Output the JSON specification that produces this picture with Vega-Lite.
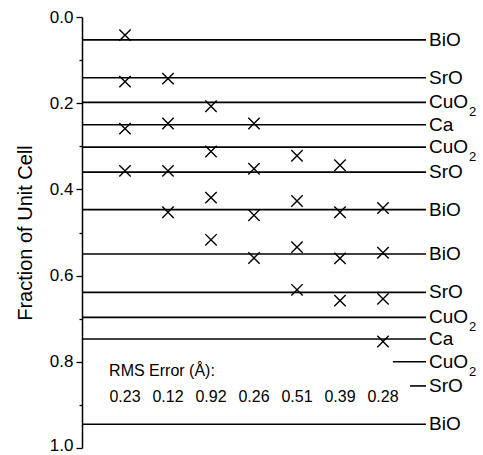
{
  "$schema": "https://vega.github.io/schema/vega-lite/v6.json",
  "width": 344,
  "height": 431,
  "autosize": {"type": "none"},
  "padding": {"left": 82, "top": 17, "right": 57, "bottom": 7},
  "background": "white",
  "config": {"view": {"stroke": null}, "font": "Liberation Sans"},
  "datasets": {
    "layers": [
      {"y": 0.053, "x1": 0, "x2": 8, "label": "BiO", "sub": ""},
      {"y": 0.141, "x1": 0, "x2": 8, "label": "SrO", "sub": ""},
      {"y": 0.198, "x1": 0, "x2": 8, "label": "CuO", "sub": "2"},
      {"y": 0.25, "x1": 0, "x2": 8, "label": "Ca", "sub": ""},
      {"y": 0.302, "x1": 0, "x2": 8, "label": "CuO", "sub": "2"},
      {"y": 0.36, "x1": 0, "x2": 8, "label": "SrO", "sub": ""},
      {"y": 0.447, "x1": 0, "x2": 8, "label": "BiO", "sub": ""},
      {"y": 0.55, "x1": 0, "x2": 8, "label": "BiO", "sub": ""},
      {"y": 0.639, "x1": 0, "x2": 8, "label": "SrO", "sub": ""},
      {"y": 0.697, "x1": 0, "x2": 8, "label": "CuO", "sub": "2"},
      {"y": 0.747, "x1": 0, "x2": 8, "label": "Ca", "sub": ""},
      {"y": 0.8, "x1": 7.23, "x2": 8, "label": "CuO", "sub": "2"},
      {"y": 0.856, "x1": 7.63, "x2": 8, "label": "SrO", "sub": ""},
      {"y": 0.945, "x1": 0, "x2": 8, "label": "BiO", "sub": ""}
    ],
    "markers": [
      {"col": 1, "y": 0.042}, {"col": 1, "y": 0.15}, {"col": 1, "y": 0.259}, {"col": 1, "y": 0.357},
      {"col": 2, "y": 0.143}, {"col": 2, "y": 0.247}, {"col": 2, "y": 0.357}, {"col": 2, "y": 0.453},
      {"col": 3, "y": 0.207}, {"col": 3, "y": 0.312}, {"col": 3, "y": 0.419}, {"col": 3, "y": 0.517},
      {"col": 4, "y": 0.247}, {"col": 4, "y": 0.352}, {"col": 4, "y": 0.46}, {"col": 4, "y": 0.559},
      {"col": 5, "y": 0.322}, {"col": 5, "y": 0.427}, {"col": 5, "y": 0.534}, {"col": 5, "y": 0.633},
      {"col": 6, "y": 0.344}, {"col": 6, "y": 0.453}, {"col": 6, "y": 0.56}, {"col": 6, "y": 0.658},
      {"col": 7, "y": 0.443}, {"col": 7, "y": 0.547}, {"col": 7, "y": 0.654}, {"col": 7, "y": 0.753}
    ],
    "rms": [
      {"col": 1, "rms": "0.23"}, {"col": 2, "rms": "0.12"}, {"col": 3, "rms": "0.92"},
      {"col": 4, "rms": "0.26"}, {"col": 5, "rms": "0.51"}, {"col": 6, "rms": "0.39"},
      {"col": 7, "rms": "0.28"}
    ]
  },
  "layer": [
    {
      "data": {"name": "layers"},
      "mark": {"type": "rule", "color": "black", "strokeWidth": 1.6},
      "encoding": {
        "x": {"field": "x1", "type": "quantitative", "scale": {"domain": [0, 8], "nice": false, "zero": false}, "axis": null},
        "x2": {"field": "x2"},
        "y": {
          "field": "y", "type": "quantitative",
          "scale": {"domain": [0, 1], "reverse": true, "nice": false},
          "axis": {
            "title": "Fraction of Unit Cell",
            "titleFont": "Liberation Sans", "titleFontSize": 20, "titleFontWeight": "normal", "titleColor": "black",
            "titlePadding": 14,
            "values": [0, 0.1, 0.2, 0.3, 0.4, 0.5, 0.6, 0.7, 0.8, 0.9, 1.0],
            "labelExpr": "round(datum.value*10)%2==0 ? format(datum.value, '.1f') : ''",
            "labelFont": "Liberation Sans", "labelFontSize": 17, "labelColor": "black", "labelPadding": 3,
            "labelOffset": {"condition": {"test": "datum.value >= 0.99", "value": -3}, "value": 0},
            "tickSize": {"condition": {"test": "round(datum.value*10)%2!=0", "value": 3}, "value": 6},
            "tickColor": "black", "tickWidth": 1.3,
            "domainColor": "black", "domainWidth": 1.5,
            "grid": false, "labelOverlap": false
          }
        }
      }
    },
    {
      "data": {"name": "layers"},
      "mark": {"type": "text", "align": "left", "baseline": "middle", "dx": 3, "fontSize": 19, "font": "Liberation Sans", "color": "black"},
      "encoding": {
        "x": {"field": "x2", "type": "quantitative"},
        "y": {"field": "y", "type": "quantitative"},
        "text": {"field": "label"}
      }
    },
    {
      "data": {"name": "layers"},
      "transform": [{"filter": "datum.sub != ''"}],
      "mark": {"type": "text", "align": "left", "baseline": "middle", "dx": 43, "dy": 10, "fontSize": 13, "font": "Liberation Sans", "color": "black"},
      "encoding": {
        "x": {"field": "x2", "type": "quantitative"},
        "y": {"field": "y", "type": "quantitative"},
        "text": {"field": "sub"}
      }
    },
    {
      "data": {"name": "markers"},
      "mark": {"type": "point", "shape": "M-1,-1L1,1M1,-1L-1,1", "filled": false, "stroke": "black", "strokeWidth": 1.4, "size": 130, "opacity": 1},
      "encoding": {
        "x": {"field": "col", "type": "quantitative"},
        "y": {"field": "y", "type": "quantitative"}
      }
    },
    {
      "data": {"values": [{"t": "RMS Error (Å):"}]},
      "mark": {"type": "text", "align": "left", "baseline": "middle", "fontSize": 16, "font": "Liberation Sans", "color": "black"},
      "encoding": {
        "x": {"datum": 0.63},
        "y": {"datum": 0.821},
        "text": {"field": "t"}
      }
    },
    {
      "data": {"name": "rms"},
      "mark": {"type": "text", "align": "center", "baseline": "middle", "fontSize": 16, "font": "Liberation Sans", "color": "black"},
      "encoding": {
        "x": {"field": "col", "type": "quantitative"},
        "y": {"datum": 0.881},
        "text": {"field": "rms"}
      }
    }
  ]
}
